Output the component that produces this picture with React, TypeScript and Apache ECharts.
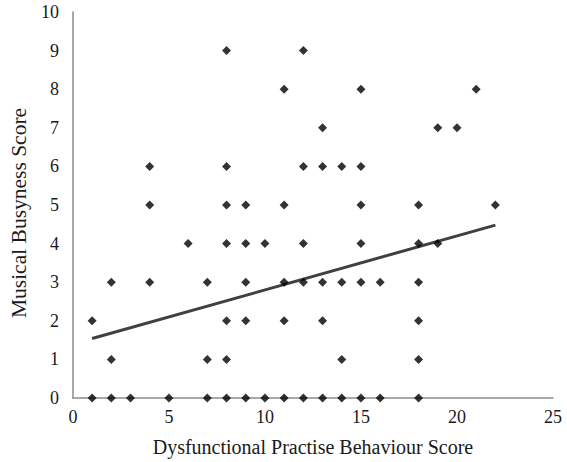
import React, { useEffect, useRef } from "react";
import * as echarts from "echarts";

const xValues = [1, 1, 2, 2, 2, 3, 4, 4, 4, 5, 6, 7, 7, 7, 8, 8, 8, 8, 8, 8, 8, 9, 9, 9, 9, 9, 10, 10, 11, 11, 11, 11, 11, 12, 12, 12, 12, 12, 13, 13, 13, 13, 13, 14, 14, 14, 14, 15, 15, 15, 15, 15, 15, 16, 16, 18, 18, 18, 18, 18, 18, 19, 19, 20, 21, 22];
const yValues = [0, 2, 0, 1, 3, 0, 3, 5, 6, 0, 4, 0, 1, 3, 0, 1, 2, 4, 5, 6, 9, 0, 2, 3, 4, 5, 0, 4, 0, 2, 3, 5, 8, 0, 3, 4, 6, 9, 0, 2, 3, 6, 7, 0, 1, 3, 6, 0, 3, 4, 5, 6, 8, 0, 3, 0, 1, 2, 3, 4, 5, 4, 7, 7, 8, 5];
const trendX = [1, 22];
const trendY = [1.54, 4.48];

const xTitle = "Dysfunctional Practise Behaviour Score";
const yTitle = "Musical Busyness Score";

export default function App() {
  const ref = useRef<HTMLDivElement>(null);
  useEffect(() => {
    document.body.style.margin = "0";
    if (!ref.current) return;
    const chart = echarts.init(ref.current, undefined, { renderer: "svg" });
    const font = "'Liberation Serif', 'Times New Roman', serif";
    chart.setOption({
      animation: false,
      backgroundColor: "#ffffff",
      grid: { left: 62, right: 14, top: 12, bottom: 64 },
      xAxis: {
        type: "value",
        min: 0,
        max: 25,
        interval: 5,
        name: xTitle,
        nameLocation: "middle",
        nameGap: 39,
        nameTextStyle: { fontFamily: font, fontSize: 20, color: "#1a1a1a" },
        axisLine: { show: true, lineStyle: { color: "#8c8c8c", width: 1.5 } },
        axisTick: { show: false },
        splitLine: { show: false },
        axisLabel: { fontFamily: font, fontSize: 18, color: "#1a1a1a", margin: 10 },
      },
      yAxis: {
        type: "value",
        min: 0,
        max: 10,
        interval: 1,
        name: yTitle,
        nameLocation: "middle",
        nameGap: 41,
        nameTextStyle: { fontFamily: font, fontSize: 21.5, color: "#1a1a1a", padding: [0, 16, 0, 0] },
        axisLine: { show: true, lineStyle: { color: "#8c8c8c", width: 1.5 } },
        axisTick: { show: false },
        splitLine: { show: false },
        axisLabel: { fontFamily: font, fontSize: 18, color: "#1a1a1a", margin: 14 },
      },
      series: [
        {
          type: "scatter",
          data: xValues.map((x, i) => [x, yValues[i]]),
          symbol: "diamond",
          symbolSize: 9,
          itemStyle: { color: "#000" },
          z: 3,
        },
        {
          type: "line",
          data: trendX.map((x, i) => [x, trendY[i]]),
          symbol: "none",
          lineStyle: { color: "#404040", width: 3 },
          z: 2,
        },
      ],
    });
    return () => chart.dispose();
  }, []);
  return <div ref={ref} style={{ width: 567, height: 462 }} />;
}
